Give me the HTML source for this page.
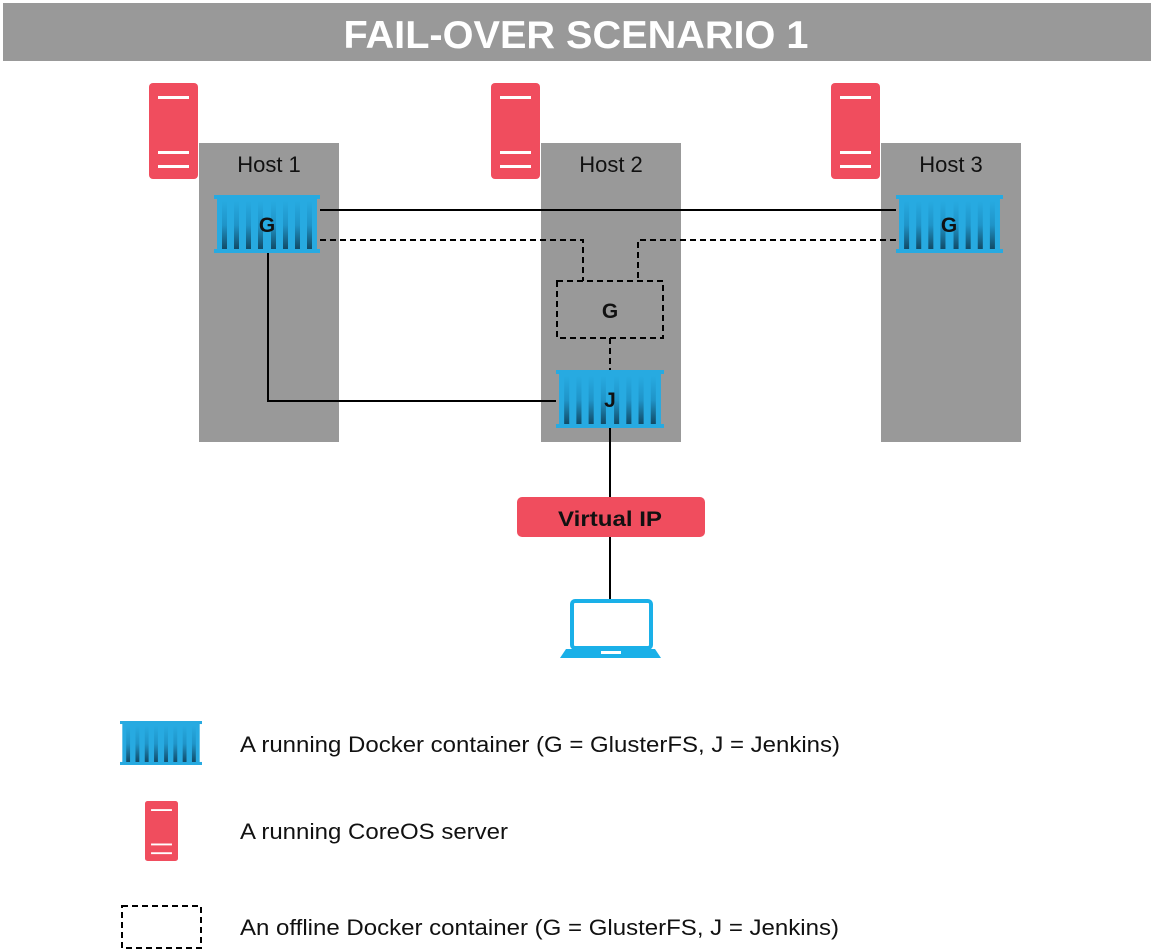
<!DOCTYPE html>
<html><head><meta charset="utf-8"><style>
html,body{margin:0;padding:0;background:#fff;}
svg{display:block;font-family:"Liberation Sans",Arial,sans-serif;}
</style></head><body>
<svg width="1154" height="952" viewBox="0 0 1154 952" xmlns="http://www.w3.org/2000/svg">
<defs>
<linearGradient id="st" x1="0" y1="0" x2="0" y2="1">
<stop offset="0" stop-color="#27aae1"/><stop offset="0.5" stop-color="#1f94c8"/><stop offset="1" stop-color="#124a66"/>
</linearGradient>
<symbol id="cont" viewBox="0 0 106 58" preserveAspectRatio="none">
<rect x="0" y="0" width="106" height="4" fill="#27aae1"/>
<rect x="0" y="54" width="106" height="4" fill="#27aae1"/>
<rect x="3" y="2" width="100" height="54" fill="#27aae1"/>
<g fill="url(#st)">
<rect x="8" y="6" width="5" height="48"/><rect x="20" y="6" width="5" height="48"/>
<rect x="32" y="6" width="5" height="48"/><rect x="44" y="6" width="5" height="48"/>
<rect x="57" y="6" width="5" height="48"/><rect x="69" y="6" width="5" height="48"/>
<rect x="81" y="6" width="5" height="48"/><rect x="93" y="6" width="5" height="48"/>
</g>
</symbol>
<symbol id="srv" viewBox="0 0 49 96" preserveAspectRatio="none">
<rect x="0" y="0" width="49" height="96" rx="4" fill="#f04d5e"/>
<rect x="9" y="13" width="31" height="3" fill="#fff"/>
<rect x="9" y="68" width="31" height="3" fill="#fff"/>
<rect x="9" y="82" width="31" height="3" fill="#fff"/>
</symbol>
</defs>
<rect x="3" y="3" width="1148" height="58" fill="#999"/>
<text x="576" y="48" text-anchor="middle" font-size="39" font-weight="bold" fill="#fff" textLength="465" lengthAdjust="spacingAndGlyphs">FAIL-OVER SCENARIO 1</text>

<use href="#srv" x="149" y="83" width="49" height="96"/>
<use href="#srv" x="491" y="83" width="49" height="96"/>
<use href="#srv" x="831" y="83" width="49" height="96"/>

<rect x="199" y="143" width="140" height="299" fill="#999"/>
<rect x="541" y="143" width="140" height="299" fill="#999"/>
<rect x="881" y="143" width="140" height="299" fill="#999"/>
<g font-size="22" fill="#111" text-anchor="middle">
<text x="269" y="172">Host 1</text><text x="611" y="172">Host 2</text><text x="951" y="172">Host 3</text>
</g>

<g stroke="#000" stroke-width="2" fill="none">
<line x1="320" y1="210" x2="896" y2="210"/>
<polyline points="268,253 268,401 556,401"/>
<line x1="610" y1="428" x2="610" y2="497"/>
<line x1="610" y1="537" x2="610" y2="600"/>
<g stroke-dasharray="6,4">
<polyline points="320,240 583,240 583,281"/>
<polyline points="896,240 638,240 638,281"/>
<line x1="610" y1="338" x2="610" y2="370"/>
<rect x="557" y="281" width="106" height="57"/>
</g>
</g>

<use href="#cont" x="214" y="195" width="106" height="58"/>
<use href="#cont" x="896" y="195" width="107" height="58"/>
<use href="#cont" x="556" y="370" width="108" height="58"/>
<g font-size="21" font-weight="bold" fill="#111" text-anchor="middle">
<text x="267" y="232">G</text><text x="949" y="232">G</text>
<text x="610" y="318">G</text><text x="610" y="407">J</text>
</g>

<rect x="517" y="497" width="188" height="40" rx="5" fill="#f04d5e"/>
<text x="610" y="526" text-anchor="middle" font-size="21" font-weight="bold" fill="#111" textLength="104" lengthAdjust="spacingAndGlyphs">Virtual IP</text>

<rect x="572" y="601" width="79" height="47" rx="3" fill="none" stroke="#1ab0e8" stroke-width="4"/>
<path d="M560,658 L566,649 L655,649 L661,658 Z" fill="#1ab0e8"/>
<rect x="601" y="651" width="20" height="3" fill="#fff"/>

<use href="#cont" x="120" y="721" width="82" height="44"/>
<use href="#srv" x="145" y="801" width="33" height="60"/>
<rect x="122" y="906" width="79" height="42" fill="none" stroke="#000" stroke-width="2" stroke-dasharray="6,4"/>
<g font-size="22" fill="#111">
<text x="240" y="752" textLength="600" lengthAdjust="spacingAndGlyphs">A running Docker container (G = GlusterFS, J = Jenkins)</text>
<text x="240" y="839" textLength="268" lengthAdjust="spacingAndGlyphs">A running CoreOS server</text>
<text x="240" y="935" textLength="599" lengthAdjust="spacingAndGlyphs">An offline Docker container (G = GlusterFS, J = Jenkins)</text>
</g>
</svg>
</body></html>
